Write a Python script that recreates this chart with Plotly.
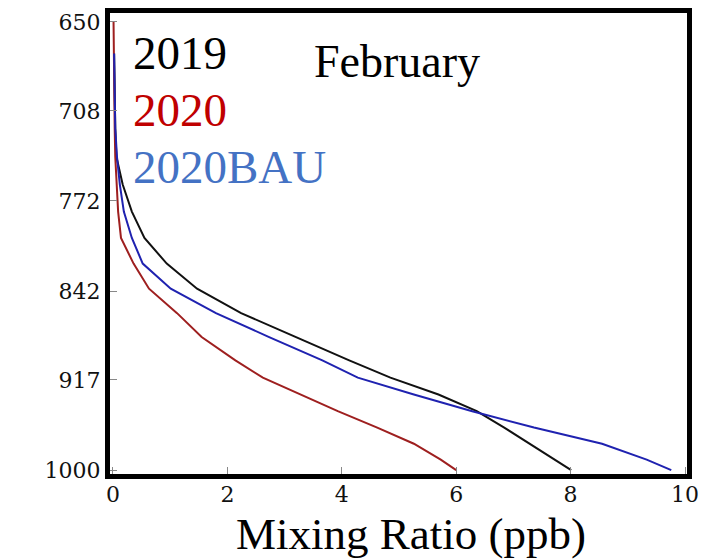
import plotly.graph_objects as go

# Pressure levels (hPa) shared by the three profiles
pressure = [1000, 990, 975, 960, 945, 930, 915, 900, 880, 860, 840,
            820, 800, 780, 760, 740, 720, 700, 680, 670, 660, 650]

# Mixing ratio profiles (ppb)
mr_2019 = [8.01, 7.72, 7.29, 6.84, 6.36, 5.69, 4.85, 4.13, 3.20, 2.24, 1.47,
           0.94, 0.55, 0.33, 0.17, 0.06, 0.04, 0.03, 0.02, 0.02, None, None]
mr_2020 = [6.00, 5.73, 5.26, 4.62, 3.93, 3.29, 2.62, 2.14, 1.55, 1.12, 0.63,
           0.36, 0.14, 0.09, 0.06, 0.04, 0.03, 0.025, 0.02, 0.018, 0.015, 0.01]
mr_2020bau = [9.76, 9.33, 8.55, 7.36, 6.28, 5.26, 4.28, 3.66, 2.73, 1.80, 1.01,
              0.52, 0.33, 0.19, 0.12, 0.07, 0.04, 0.03, 0.02, 0.02, None, None]

series_names = ["2019", "2020", "2020BAU"]
line_colors = ["#111111", "#9e1f1f", "#1f22b0"]
label_colors = ["#000000", "#c00000", "#4472c4"]

y_ticks = [650, 708, 772, 842, 917, 1000]
x_ticks = [0, 2, 4, 6, 8, 10]

W, H = 715, 559
L, R, T, B = 110, 28, 8, 85
pw, ph = W - L - R, H - T - B


def px(x):
    return (x - L) / pw


def py(y):
    return (H - B - y) / ph


fig = go.Figure()
for name, vals, col in zip(series_names, [mr_2019, mr_2020, mr_2020bau], line_colors):
    fig.add_trace(go.Scatter(x=vals, y=pressure, mode="lines", name=name,
                             line=dict(color=col, width=2), connectgaps=False))

serif = "Liberation Serif, Times New Roman, serif"
tickfont = dict(family="DejaVu Serif, serif", size=22, color="#111111")

# Series labels and month
for txt, col, yy in zip(series_names, label_colors, [48, 106, 164]):
    fig.add_annotation(x=px(131), y=py(yy), xref="paper", yref="paper",
                       text=txt, showarrow=False, xanchor="left", yanchor="middle",
                       font=dict(family=serif, size=47, color=col))
fig.add_annotation(x=px(312), y=py(57), xref="paper", yref="paper",
                   text="February", showarrow=False, xanchor="left", yanchor="middle",
                   font=dict(family=serif, size=46, color="#000000"))
fig.add_annotation(x=px(411), y=py(535), xref="paper", yref="paper",
                   text="Mixing Ratio (ppb)", showarrow=False, xanchor="center",
                   yanchor="middle", font=dict(family=serif, size=45, color="#000000"))

fig.update_xaxes(range=[-0.052, 10.035], tickvals=x_ticks,
                 showline=True, linewidth=5, linecolor="black", mirror=True,
                 ticks="inside", ticklen=7, tickcolor="#888888", tickwidth=1,
                 ticklabelstandoff=-3,
                 showgrid=False, zeroline=False, tickfont=tickfont)
fig.update_yaxes(type="log", range=[3.00165, 2.80919], tickvals=y_ticks,
                 ticktext=[str(v) for v in y_ticks],
                 showline=True, linewidth=5, linecolor="black", mirror=True,
                 ticks="inside", ticklen=7, tickcolor="#888888", tickwidth=1,
                 showgrid=False, zeroline=False, tickfont=tickfont)

fig.update_layout(width=W, height=H, margin=dict(l=L, r=R, t=T, b=B),
                  plot_bgcolor="white", paper_bgcolor="white", showlegend=False)

fig.write_html("out.html")
